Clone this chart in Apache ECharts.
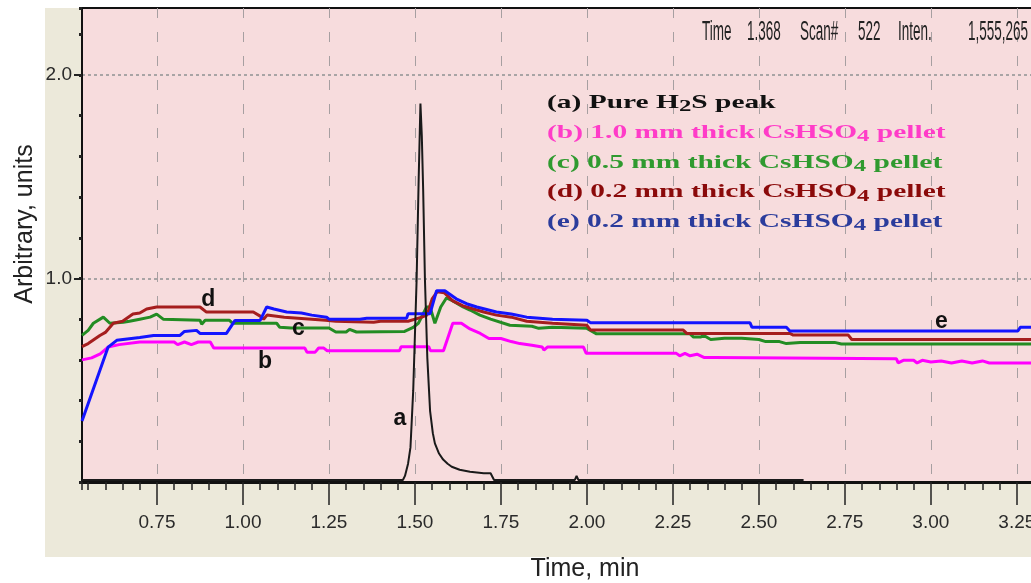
<!DOCTYPE html>
<html>
<head>
<meta charset="utf-8">
<title>H2S peak and CsHSO4 pellets</title>
<script src="https://cdn.jsdelivr.net/npm/echarts@6/dist/echarts.min.js"></script>
<style>
html,body{margin:0;padding:0;background:#fff;}
#wrap{position:relative;width:1031px;height:583px;overflow:hidden;}
#panel{position:absolute;left:45px;top:8px;width:986px;height:549px;background:#ece9da;}
#chart{position:absolute;left:0;top:0;width:1031px;height:583px;}
</style>
</head>
<body>
<div id="wrap"><div id="panel"></div><div id="chart"></div></div>
<script>
// axis range and tick labels (time in min, intensity in arbitrary units)
var xMin = 0.532, xMax = 3.297;
var yMin = 0, yMax = 2.329;
var xMajor = [0.75, 1.00, 1.25, 1.50, 1.75, 2.00, 2.25, 2.50, 2.75, 3.00, 3.25];
var yMajor = [1.0, 2.0];

// (a) pure H2S peak
var seriesA = [[0.532,0.01],[1.465,0.01],[1.471,0.03],[1.48,0.09],[1.487,0.17],[1.495,0.45],
  [1.505,1.0],[1.511,1.5],[1.516,1.86],[1.52,1.7],[1.524,1.43],[1.529,1.0],[1.536,0.61],
  [1.544,0.35],[1.552,0.24],[1.558,0.19],[1.57,0.14],[1.582,0.11],[1.595,0.09],[1.607,0.075],
  [1.63,0.06],[1.66,0.05],[1.70,0.043],[1.72,0.043],[1.73,0.01],[1.965,0.01],[1.97,0.03],
  [1.975,0.01],[2.63,0.01]];

// (b) 1.0 mm pellet
var seriesB = [[0.532,0.60],[0.56,0.61],[0.585,0.63],[0.608,0.663],[0.64,0.675],[0.70,0.688],
  [0.80,0.688],[0.81,0.675],[0.83,0.688],[0.85,0.675],[0.87,0.688],[0.905,0.688],[0.915,0.658],
  [1.18,0.658],[1.186,0.638],[1.21,0.638],[1.22,0.658],[1.235,0.658],[1.245,0.645],[1.455,0.645],
  [1.46,0.665],[1.54,0.665],[1.545,0.645],[1.583,0.645],[1.61,0.78],[1.635,0.78],[1.66,0.752],
  [1.69,0.73],[1.715,0.705],[1.75,0.705],[1.78,0.69],[1.805,0.68],[1.84,0.672],[1.87,0.663],
  [1.875,0.648],[1.885,0.663],[1.99,0.663],[1.998,0.632],[2.26,0.632],[2.27,0.62],[2.285,0.632],
  [2.30,0.62],[2.32,0.628],[2.34,0.612],[2.37,0.612],[2.375,0.605],[2.90,0.605],[2.905,0.585],
  [2.92,0.598],[2.95,0.598],[2.96,0.585],[2.975,0.598],[3.0,0.59],[3.03,0.595],[3.06,0.585],
  [3.09,0.595],[3.12,0.585],[3.15,0.595],[3.17,0.585],[3.297,0.585]];

// (c) 0.5 mm pellet
var seriesC = [[0.532,0.72],[0.55,0.745],[0.565,0.78],[0.594,0.81],[0.613,0.78],[0.652,0.785],
  [0.67,0.79],[0.70,0.80],[0.73,0.81],[0.749,0.825],[0.768,0.80],[0.875,0.795],[0.88,0.775],
  [0.89,0.795],[0.96,0.795],[0.97,0.78],[1.098,0.78],[1.107,0.76],[1.14,0.757],[1.25,0.757],
  [1.27,0.737],[1.30,0.737],[1.31,0.75],[1.33,0.737],[1.47,0.74],[1.495,0.76],[1.51,0.78],
  [1.534,0.86],[1.544,0.86],[1.558,0.78],[1.575,0.86],[1.592,0.905],[1.61,0.89],[1.64,0.86],
  [1.66,0.845],[1.689,0.82],[1.72,0.80],[1.776,0.77],[1.84,0.765],[1.86,0.755],[1.90,0.76],
  [2.0,0.755],[2.028,0.728],[2.30,0.728],[2.31,0.712],[2.33,0.712],[2.34,0.72],[2.36,0.70],
  [2.40,0.706],[2.45,0.706],[2.50,0.70],[2.52,0.69],[2.56,0.69],[2.58,0.68],[2.62,0.686],
  [2.72,0.686],[2.74,0.678],[3.297,0.678]];

// (d) 0.2 mm pellet
var seriesD = [[0.532,0.665],[0.55,0.68],[0.584,0.72],[0.60,0.735],[0.623,0.78],[0.65,0.79],
  [0.68,0.825],[0.70,0.83],[0.72,0.85],[0.749,0.86],[0.875,0.86],[0.894,0.835],[1.03,0.835],
  [1.05,0.815],[1.06,0.80],[1.07,0.82],[1.12,0.81],[1.20,0.80],[1.24,0.795],[1.27,0.79],
  [1.38,0.785],[1.40,0.79],[1.48,0.79],[1.52,0.81],[1.535,0.82],[1.55,0.90],[1.565,0.935],
  [1.585,0.93],[1.61,0.89],[1.64,0.865],[1.67,0.85],[1.70,0.835],[1.737,0.82],[1.78,0.81],
  [1.825,0.79],[1.90,0.78],[2.0,0.77],[2.01,0.747],[2.28,0.747],[2.29,0.73],[2.59,0.73],
  [2.60,0.722],[2.76,0.722],[2.77,0.70],[3.297,0.70]];

// (e) 0.2 mm pellet
var seriesE = [[0.532,0.30],[0.608,0.663],[0.633,0.696],[0.70,0.71],[0.74,0.72],[0.817,0.72],
  [0.83,0.74],[0.865,0.745],[0.875,0.73],[0.952,0.73],[0.977,0.794],[1.05,0.794],[1.069,0.86],
  [1.09,0.85],[1.127,0.835],[1.17,0.83],[1.20,0.82],[1.243,0.81],[1.25,0.80],[1.34,0.80],
  [1.36,0.805],[1.476,0.805],[1.48,0.827],[1.544,0.827],[1.563,0.94],[1.587,0.94],[1.62,0.90],
  [1.65,0.876],[1.68,0.86],[1.737,0.835],[1.78,0.825],[1.825,0.81],[1.90,0.80],[2.0,0.795],
  [2.01,0.783],[2.474,0.783],[2.48,0.76],[2.58,0.76],[2.59,0.742],[3.253,0.742],[3.26,0.76],
  [3.297,0.76]];

// curve letters and where they sit
var curveTags = ['a','b','c','d','e'];
var tagCoords = [[1.456,0.313],[1.064,0.59],[1.161,0.755],[0.899,0.894],[3.031,0.788]];

var legendLines = [
  '(a) Pure H{s|2}S peak',
  '(b) 1.0 mm thick CsHSO{s|4} pellet',
  '(c) 0.5 mm thick CsHSO{s|4} pellet',
  '(d) 0.2 mm thick CsHSO{s|4} pellet',
  '(e) 0.2 mm thick CsHSO{s|4} pellet'
];
var legendColors = ['#111111','#ff3cc8','#2f9a2f','#8b0a0a','#2b3c9c'];
var lineColors = ['#1a1a1a','#ff00ff','#238c23','#a51e1e','#1414ff'];

var headerWords = ['Time','1.368','Scan#','522','Inten.','1,555,265'];
var headerX = [702, 747, 800, 858, 898, 968];

var tickFont = '"Liberation Sans",Arial,sans-serif';

function tagFor(i){
  return {
    symbol:'circle', symbolSize:0,
    label:{show:true, position:'inside', formatter:curveTags[i], color:'#111',
      fontFamily:'"Liberation Sans",Arial,sans-serif', fontWeight:'bold', fontSize:23},
    data:[{coord:tagCoords[i]}]
  };
}

function line(name, data, idx, width){
  return {
    name:name, type:'line', data:data, showSymbol:false, silent:true,
    lineStyle:{color:lineColors[idx], width:width}, itemStyle:{color:lineColors[idx]},
    markPoint:tagFor(idx)
  };
}

var graphics = [];
for (var i=0;i<legendLines.length;i++){
  graphics.push({
    type:'text', x:547, y:103 + i*29.8, scaleX:1.55, z:10,
    style:{
      text:legendLines[i], fill:legendColors[i],
      font:'bold 19px "Liberation Serif","Times New Roman",serif',
      lineHeight:24, verticalAlign:'middle', align:'left',
      rich:{ s:{fontSize:16, fontWeight:'bold', fontFamily:'"Liberation Serif",serif',
        fill:legendColors[i], verticalAlign:'bottom', lineHeight:8} }
    }
  });
}
for (var j=0;j<headerWords.length;j++){
  graphics.push({
    type:'text', x:headerX[j], y:33, scaleX:0.5, z:10,
    style:{text:headerWords[j], fill:'#222', font:'27px "Liberation Sans",Arial,sans-serif',
      verticalAlign:'middle', align:'left'}
  });
}
graphics.push({
  type:'text', x:25, y:224, rotation:Math.PI/2, z:10,
  style:{text:'Arbitrary, units', fill:'#222', font:'25px "Liberation Sans",Arial,sans-serif',
    align:'center', verticalAlign:'middle'}
});
graphics.push({
  type:'text', x:585, y:569, z:10,
  style:{text:'Time, min', fill:'#222', font:'25px "Liberation Sans",Arial,sans-serif',
    align:'center', verticalAlign:'middle'}
});

var chart = echarts.init(document.getElementById('chart'));
var option = {
  animation:false,
  grid:{left:82, top:8, right:-2, bottom:101, show:true, backgroundColor:'#f7dcdd',
    borderColor:'#111', borderWidth:2, containLabel:false, outerBoundsMode:'none'},
  xAxis:[{
    type:'value', min:xMin, max:xMax, minInterval:0.25, maxInterval:0.25, position:'bottom',
    axisLine:{onZero:false, lineStyle:{color:'#111', width:3}},
    axisTick:{length:23, customValues:xMajor, lineStyle:{color:'#222', width:1.5}},
    axisLabel:{customValues:xMajor, margin:31, hideOverlap:false,
      formatter:function(v){return v.toFixed(2);}, color:'#2a2a2a', fontFamily:tickFont, fontSize:19},
    splitLine:{show:true, lineStyle:{color:'#a79fa1', width:1, type:[10,14]}}
  },{
    type:'value', min:xMin, max:xMax, minInterval:0.05, maxInterval:0.05, position:'bottom',
    axisLine:{show:false, onZero:false},
    axisTick:{length:8, lineStyle:{color:'#222', width:1.5}},
    axisLabel:{show:false}, splitLine:{show:false}
  }],
  yAxis:[{
    type:'value', min:yMin, max:yMax, minInterval:1, maxInterval:1, position:'left',
    axisLine:{onZero:false, lineStyle:{color:'#111', width:2}},
    axisTick:{length:8, customValues:yMajor, lineStyle:{color:'#222', width:2}},
    axisLabel:{customValues:yMajor, margin:10,
      formatter:function(v){return v.toFixed(1);}, color:'#2a2a2a', fontFamily:tickFont, fontSize:19},
    splitLine:{show:true, lineStyle:{color:'#a9a4a5', width:2, type:[3,3]}}
  },{
    type:'value', min:yMin, max:yMax, minInterval:0.2, maxInterval:0.2, position:'left',
    axisLine:{show:false, onZero:false},
    axisTick:{length:3, lineStyle:{color:'#222', width:3}},
    axisLabel:{show:false}, splitLine:{show:false}
  }],
  series:[
    line('(b)', seriesB, 1, 3),
    line('(c)', seriesC, 2, 3),
    line('(d)', seriesD, 3, 3),
    line('(e)', seriesE, 4, 3),
    line('(a)', seriesA, 0, 2)
  ],
  graphic:graphics
};
chart.setOption(option);
</script>
</body>
</html>
